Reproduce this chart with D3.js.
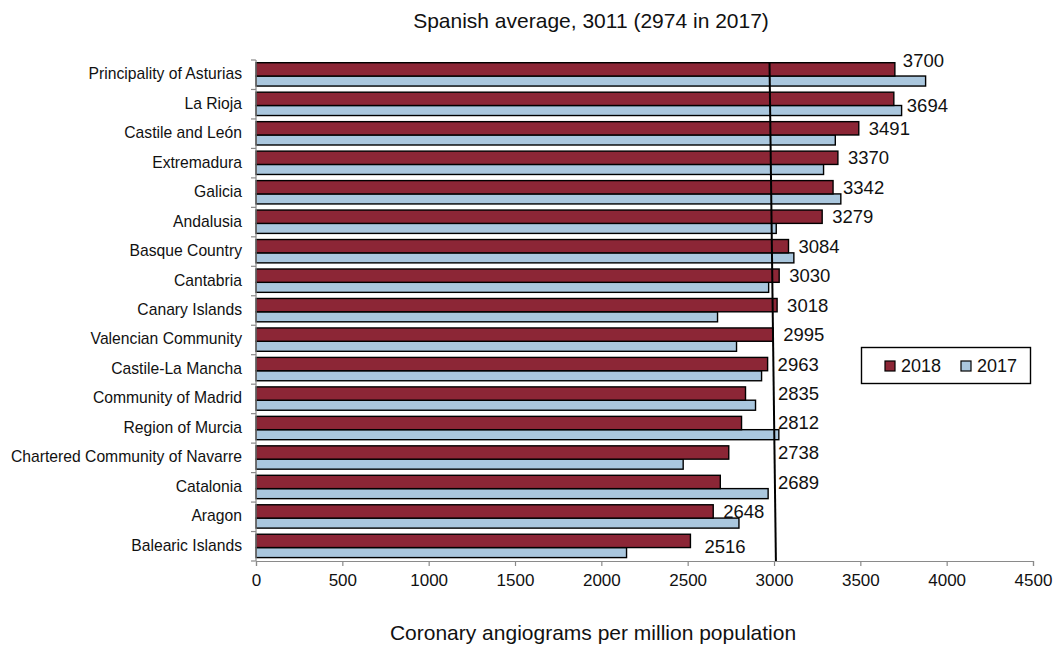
<!DOCTYPE html>
<html>
<head>
<meta charset="utf-8">
<script src="https://cdn.jsdelivr.net/npm/d3@7/dist/d3.min.js"></script>
<style>
  html, body { margin: 0; padding: 0; background: #fff; }
  svg { display: block; font-family: "Liberation Sans", Arial, Helvetica, sans-serif; }
</style>
</head>
<body>
<svg id="chart" width="1059" height="652"></svg>
<script>
// Regions, ordered top to bottom
const regions = [
  "Principality of Asturias", "La Rioja", "Castile and León", "Extremadura",
  "Galicia", "Andalusia", "Basque Country", "Cantabria", "Canary Islands",
  "Valencian Community", "Castile-La Mancha", "Community of Madrid",
  "Region of Murcia", "Chartered Community of Navarre", "Catalonia",
  "Aragon", "Balearic Islands"
];
// Coronary angiograms per million population
const values2018 = [3700, 3694, 3491, 3370, 3342, 3279, 3084, 3030, 3018,
                    2995, 2963, 2835, 2812, 2738, 2689, 2648, 2516];
const values2017 = [3878, 3739, 3355, 3287, 3387, 3013, 3115, 2969, 2673,
                    2783, 2928, 2893, 3028, 2474, 2966, 2797, 2146];
const xTicks = [0, 500, 1000, 1500, 2000, 2500, 3000, 3500, 4000, 4500];
const avg2018 = 3011;
const avg2017 = 2974;
const seriesNames = ["2018", "2017"];

const colors = { "2018": "#8c2636", "2017": "#aac7de" };
const axisGray = "#8a8a8a";

const svg = d3.select("#chart");
const plot = { left: 256, right: 1033, top: 60, bottom: 561 };

const x = d3.scaleLinear().domain([0, 4500]).range([plot.left, plot.right]);
const y = d3.scaleBand().domain(regions).range([plot.top, plot.bottom]).padding(0);
const bw = y.bandwidth();

const rows = regions.map((r, i) => ({ region: r, v18: values2018[i], v17: values2017[i] }));

// Title
svg.append("text")
  .attr("x", 591).attr("y", 28)
  .attr("text-anchor", "middle")
  .attr("font-size", 21)
  .attr("fill", "#111")
  .text("Spanish average, 3011 (2974 in 2017)");

// Bars: 2017 drawn first, 2018 on top
const redOff = bw * 0.092, redH = bw * 0.452, blueH = bw * 0.34;

svg.append("g").selectAll("rect")
  .data(rows).join("rect")
  .attr("x", x(0))
  .attr("y", d => y(d.region) + redOff + redH)
  .attr("width", d => x(d.v17) - x(0))
  .attr("height", blueH)
  .attr("fill", colors["2017"])
  .attr("stroke", "#000").attr("stroke-width", 1.4);

svg.append("g").selectAll("rect")
  .data(rows).join("rect")
  .attr("x", x(0))
  .attr("y", d => y(d.region) + redOff)
  .attr("width", d => x(d.v18) - x(0))
  .attr("height", redH)
  .attr("fill", colors["2018"])
  .attr("stroke", "#000").attr("stroke-width", 1.4);

// Y axis (category labels)
const yAxisG = svg.append("g");
yAxisG.append("line")
  .attr("x1", plot.left).attr("x2", plot.left)
  .attr("y1", plot.top).attr("y2", plot.bottom)
  .attr("stroke", axisGray).attr("stroke-width", 1.2);
const bounds = d3.range(regions.length + 1).map(i => plot.top + i * bw);
yAxisG.selectAll("line.tick").data(bounds).join("line")
  .attr("class", "tick")
  .attr("x1", plot.left - 5).attr("x2", plot.left)
  .attr("y1", d => d).attr("y2", d => d)
  .attr("stroke", axisGray).attr("stroke-width", 1.2);
yAxisG.selectAll("text").data(regions).join("text")
  .attr("x", 242)
  .attr("y", d => y(d) + bw / 2 - 1)
  .attr("dy", "0.35em")
  .attr("text-anchor", "end")
  .attr("font-size", 15.7)
  .attr("fill", "#111")
  .text(d => d);

// X axis
const xAxis = d3.axisBottom(x).tickValues(xTicks).tickSize(5).tickPadding(8).tickFormat(d3.format("d"));
const xg = svg.append("g")
  .attr("transform", `translate(0,${plot.bottom})`)
  .call(xAxis);
xg.select(".domain").attr("stroke", axisGray).attr("stroke-width", 1.2);
xg.selectAll(".tick line").attr("stroke", axisGray).attr("stroke-width", 1.2);
xg.selectAll(".tick text")
  .attr("font-size", 17)
  .attr("font-family", "\"Liberation Sans\", Arial, sans-serif")
  .attr("fill", "#111");

// X axis title
svg.append("text")
  .attr("x", 593).attr("y", 640)
  .attr("text-anchor", "middle")
  .attr("font-size", 21)
  .attr("fill", "#111")
  .text("Coronary angiograms per million population");

// Spanish average reference line (2017 level at the top, 2018 level at the base)
svg.append("line")
  .attr("x1", x(avg2017)).attr("y1", plot.top + 2)
  .attr("x2", x(avg2018)).attr("y2", plot.bottom)
  .attr("stroke", "#000").attr("stroke-width", 2);

// 2018 value labels; labels that would run into the average line sit just past it
const labelNudge = {
  "Principality of Asturias": { dy: -9, dx: -2 },
  "La Rioja": { dy: 7, dx: 3 },
  "Catalonia": { dy: 1, pastLine: true },
  "Balearic Islands": { dy: 6, dx: 4 }
};
const labelW = 42;
const lineX = x(avg2018);
svg.append("g").selectAll("text")
  .data(rows).join("text")
  .attr("x", d => {
    const n = labelNudge[d.region] || {};
    let lx = x(d.v18) + 10;
    if (n.pastLine || (lx < lineX && lx + labelW > lineX - 2)) lx = lineX + 2;
    return lx + (n.dx || 0);
  })
  .attr("y", d => y(d.region) + redOff + redH / 2 + ((labelNudge[d.region] || {}).dy || 0))
  .attr("dy", "0.35em")
  .attr("font-size", 18.5)
  .attr("fill", "#111")
  .text(d => d.v18);

// Legend
const lg = svg.append("g");
lg.append("rect")
  .attr("x", 861.5).attr("y", 347.5).attr("width", 169).attr("height", 36)
  .attr("fill", "#fff").attr("stroke", "#000").attr("stroke-width", 1.4);
const legendItems = [
  { name: seriesNames[0], sx: 885, tx: 901 },
  { name: seriesNames[1], sx: 961, tx: 977 }
];
lg.selectAll("rect.key").data(legendItems).join("rect")
  .attr("class", "key")
  .attr("x", d => d.sx).attr("y", 361)
  .attr("width", 10).attr("height", 10)
  .attr("fill", d => colors[d.name])
  .attr("stroke", "#000").attr("stroke-width", 1.2);
lg.selectAll("text").data(legendItems).join("text")
  .attr("x", d => d.tx).attr("y", 366)
  .attr("dy", "0.35em")
  .attr("font-size", 18)
  .attr("fill", "#111")
  .text(d => d.name);
</script>
</body>
</html>
